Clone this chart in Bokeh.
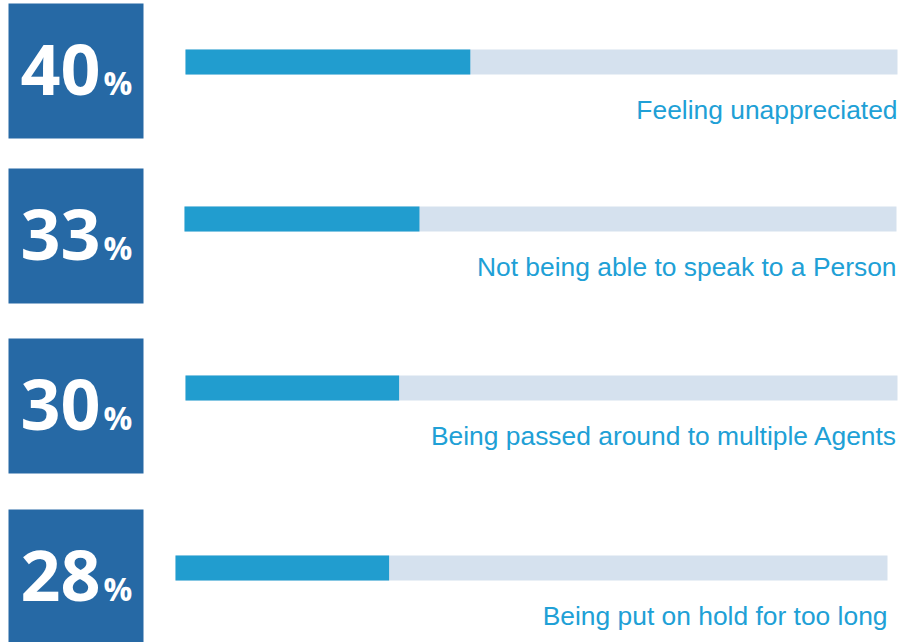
from bokeh.plotting import figure
from bokeh.models import Range1d, ColumnDataSource
from bokeh.core.properties import value
from bokeh.embed import file_html
from bokeh.resources import INLINE

# ---- data ----
categories = [
    "Feeling unappreciated",
    "Not being able to speak to a Person",
    "Being passed around to multiple Agents",
    "Being put on hold for too long",
]
pct_labels = ["40", "33", "30", "28"]
bar_values = [40, 33, 30, 30]  # bar fill as drawn in the picture (%)
scale_max = 100

# ---- layout (pixels) ----
W, H = 916, 642
PAGE_X0, PAGE_Y0 = 0, 0          # picture position of the figure's top-left
ZERO_X = 185                     # picture x of 0 %
PX_PER_UNIT = 7.12               # pixels per percent
row_top = [3, 168, 338, 509]     # picture y of each box top
bar_off = [46, 38, 37, 46]       # bar top below box top
row_dx = [0, -1, 0, -10]         # horizontal nudge of each bar (px)
BOX_X = 8
BOX = 135
BAR_H = 25
NUM_SHIFT = 28                   # baseline compensation for svg text
PC_SHIFT = 15
LAB_SHIFT = 9


def xd(px):
    return (px - ZERO_X) / PX_PER_UNIT


def yd(py):
    return py - PAGE_Y0


BOX_COL = "#2669A5"
FILL_COL = "#219DCF"
TRACK_COL = "#D5E1EE"
TEXT_COL = "#20A0D6"

n = len(categories)
dx_u = [d / PX_PER_UNIT for d in row_dx]
bar_y = [yd(row_top[i] + bar_off[i] + BAR_H / 2) for i in range(n)]

src = ColumnDataSource(dict(
    cat=categories,
    pct=pct_labels,
    val=bar_values,
    box_l=[xd(BOX_X)] * n,
    box_r=[xd(BOX_X + BOX)] * n,
    box_t=[yd(t) for t in row_top],
    box_b=[yd(t + BOX) for t in row_top],
    bar_y=bar_y,
    left=dx_u,
    track_r=[d + scale_max for d in dx_u],
    fill_r=[d + v for d, v in zip(dx_u, bar_values)],
    num_x=[xd(BOX_X + 92)] * n,
    pc_x=[xd(BOX_X + 95)] * n,
    num_y=[yd(t + 94 - NUM_SHIFT) for t in row_top],
    pc_y=[yd(t + 94 - PC_SHIFT) for t in row_top],
    pc_sym=["%"] * n,
    lab_y=[yd(row_top[i] + bar_off[i] + 69 - LAB_SHIFT) for i in range(n)],
))

x0 = xd(PAGE_X0)
p = figure(
    width=W, height=H, output_backend="svg", toolbar_location=None,
    x_range=Range1d(x0, x0 + W / PX_PER_UNIT),
    y_range=Range1d(H, 0),
    min_border=0, min_border_left=0, min_border_right=0,
    min_border_top=0, min_border_bottom=0,
)
p.axis.visible = False
p.grid.visible = False
p.outline_line_color = None
p.background_fill_color = "white"
p.border_fill_color = "white"

p.quad(left="box_l", right="box_r", top="box_t", bottom="box_b",
       source=src, fill_color=BOX_COL, line_color=None)
p.hbar(y="bar_y", left="left", right="track_r", height=BAR_H,
       source=src, fill_color=TRACK_COL, line_color=None)
p.hbar(y="bar_y", left="left", right="fill_r", height=BAR_H,
       source=src, fill_color=FILL_COL, line_color=None)

p.text(x="num_x", y="num_y", text="pct", source=src,
       text_font=value("Open Sans"), text_font_style="bold",
       text_font_size="70px", text_color="white",
       text_align="right", text_baseline="alphabetic")
p.text(x="pc_x", y="pc_y", text="pc_sym", source=src,
       text_font=value("Open Sans"), text_font_style="bold",
       text_font_size="32px", text_color="white",
       text_align="left", text_baseline="alphabetic")
p.text(x="track_r", y="lab_y", text="cat", source=src,
       text_font=value("Liberation Sans"),
       text_font_size="26.4px", text_color=TEXT_COL,
       text_align="right", text_baseline="alphabetic")

open("out.html", "w").write(file_html(p, INLINE))
